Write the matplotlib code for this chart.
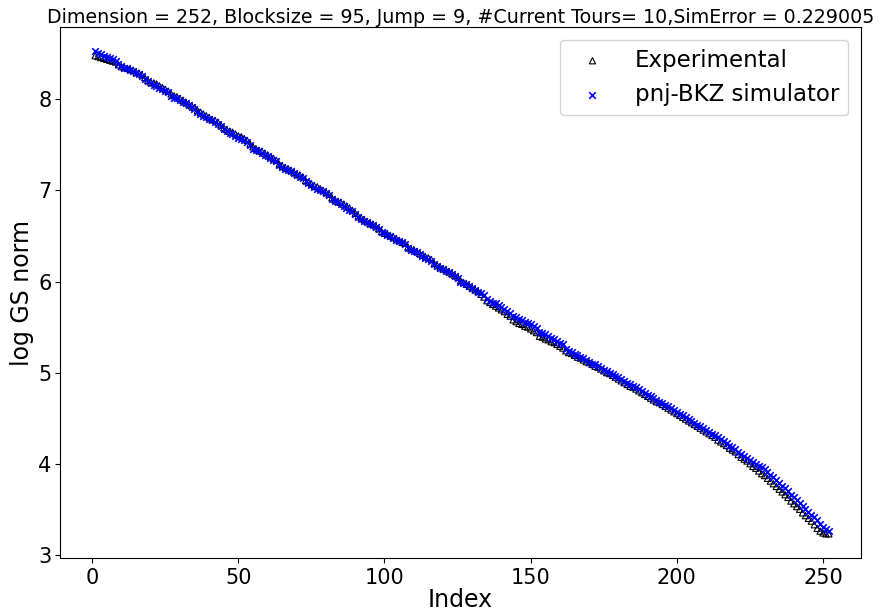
import matplotlib
matplotlib.use("Agg")
import matplotlib.pyplot as plt

index = list(range(1, 253))

experimental = [
    8.48, 8.47, 8.46, 8.45, 8.44, 8.43, 8.42, 8.41, 8.38, 8.36,
    8.35, 8.34, 8.33, 8.32, 8.30, 8.29, 8.27, 8.24, 8.21, 8.19,
    8.18, 8.17, 8.15, 8.13, 8.11, 8.09, 8.06, 8.04, 8.03, 8.01,
    7.99, 7.97, 7.95, 7.93, 7.91, 7.88, 7.86, 7.84, 7.82, 7.80,
    7.78, 7.77, 7.75, 7.72, 7.69, 7.67, 7.65, 7.64, 7.62, 7.60,
    7.59, 7.57, 7.55, 7.51, 7.48, 7.46, 7.44, 7.43, 7.41, 7.39,
    7.37, 7.35, 7.33, 7.29, 7.27, 7.25, 7.24, 7.22, 7.20, 7.18,
    7.17, 7.15, 7.11, 7.09, 7.07, 7.05, 7.04, 7.02, 7.00, 6.98,
    6.96, 6.92, 6.90, 6.88, 6.87, 6.85, 6.83, 6.81, 6.78, 6.75,
    6.72, 6.70, 6.68, 6.66, 6.64, 6.63, 6.61, 6.58, 6.55, 6.53,
    6.52, 6.50, 6.49, 6.47, 6.45, 6.43, 6.42, 6.38, 6.36, 6.35,
    6.33, 6.31, 6.29, 6.27, 6.26, 6.24, 6.20, 6.18, 6.16, 6.14,
    6.13, 6.11, 6.09, 6.07, 6.05, 6.01, 5.99, 5.97, 5.95, 5.93,
    5.91, 5.89, 5.86, 5.83, 5.79, 5.77, 5.75, 5.73, 5.71, 5.69,
    5.67, 5.64, 5.62, 5.58, 5.56, 5.54, 5.53, 5.51, 5.50, 5.48,
    5.46, 5.44, 5.40, 5.39, 5.37, 5.36, 5.34, 5.33, 5.31, 5.29,
    5.27, 5.24, 5.22, 5.21, 5.19, 5.17, 5.16, 5.14, 5.12, 5.11,
    5.09, 5.07, 5.06, 5.04, 5.02, 5.00, 4.99, 4.97, 4.95, 4.93,
    4.91, 4.89, 4.87, 4.85, 4.84, 4.82, 4.80, 4.78, 4.76, 4.74,
    4.72, 4.70, 4.68, 4.67, 4.65, 4.63, 4.61, 4.59, 4.57, 4.55,
    4.53, 4.51, 4.49, 4.47, 4.45, 4.43, 4.41, 4.39, 4.37, 4.35,
    4.33, 4.31, 4.29, 4.26, 4.24, 4.22, 4.20, 4.17, 4.15, 4.13,
    4.10, 4.07, 4.05, 4.03, 4.00, 3.97, 3.95, 3.92, 3.89, 3.87,
    3.84, 3.81, 3.78, 3.75, 3.72, 3.69, 3.66, 3.63, 3.59, 3.56,
    3.53, 3.50, 3.46, 3.43, 3.40, 3.37, 3.33, 3.29, 3.26, 3.24,
    3.23, 3.23,
]

simulator = [
    8.53, 8.51, 8.50, 8.48, 8.47, 8.45, 8.44, 8.42, 8.39, 8.37,
    8.35, 8.34, 8.32, 8.31, 8.29, 8.28, 8.26, 8.22, 8.20, 8.18,
    8.16, 8.15, 8.13, 8.11, 8.09, 8.08, 8.04, 8.02, 8.01, 7.99,
    7.97, 7.96, 7.94, 7.92, 7.90, 7.86, 7.84, 7.82, 7.81, 7.79,
    7.77, 7.75, 7.73, 7.71, 7.68, 7.65, 7.63, 7.62, 7.60, 7.58,
    7.57, 7.55, 7.53, 7.50, 7.46, 7.45, 7.43, 7.41, 7.39, 7.38,
    7.36, 7.34, 7.32, 7.28, 7.26, 7.24, 7.22, 7.21, 7.19, 7.17,
    7.15, 7.14, 7.10, 7.08, 7.06, 7.04, 7.02, 7.01, 6.99, 6.97,
    6.95, 6.91, 6.89, 6.87, 6.85, 6.83, 6.81, 6.79, 6.77, 6.74,
    6.71, 6.69, 6.67, 6.65, 6.63, 6.62, 6.60, 6.58, 6.54, 6.53,
    6.51, 6.50, 6.48, 6.46, 6.44, 6.43, 6.41, 6.37, 6.35, 6.34,
    6.32, 6.30, 6.28, 6.26, 6.25, 6.23, 6.19, 6.17, 6.15, 6.14,
    6.12, 6.10, 6.08, 6.06, 6.04, 6.00, 5.98, 5.97, 5.95, 5.93,
    5.91, 5.89, 5.87, 5.85, 5.81, 5.79, 5.77, 5.76, 5.74, 5.72,
    5.70, 5.68, 5.66, 5.62, 5.61, 5.59, 5.58, 5.56, 5.55, 5.53,
    5.51, 5.49, 5.45, 5.43, 5.42, 5.40, 5.38, 5.37, 5.35, 5.33,
    5.31, 5.26, 5.24, 5.23, 5.21, 5.19, 5.17, 5.16, 5.14, 5.12,
    5.10, 5.09, 5.07, 5.05, 5.03, 5.02, 5.00, 4.98, 4.96, 4.95,
    4.93, 4.91, 4.89, 4.87, 4.85, 4.84, 4.82, 4.80, 4.78, 4.76,
    4.74, 4.72, 4.70, 4.68, 4.67, 4.65, 4.63, 4.61, 4.59, 4.57,
    4.55, 4.53, 4.51, 4.49, 4.47, 4.45, 4.43, 4.41, 4.39, 4.37,
    4.35, 4.33, 4.31, 4.29, 4.27, 4.25, 4.23, 4.20, 4.18, 4.16,
    4.13, 4.11, 4.08, 4.06, 4.04, 4.02, 4.00, 3.98, 3.96, 3.94,
    3.91, 3.88, 3.85, 3.82, 3.79, 3.76, 3.73, 3.70, 3.66, 3.63,
    3.60, 3.57, 3.54, 3.50, 3.47, 3.44, 3.41, 3.38, 3.34, 3.31,
    3.28, 3.26,
]

title = "Dimension = 252, Blocksize = 95, Jump = 9, #Current Tours= 10,SimError = 0.229005"

fig = plt.figure(figsize=(8.81, 6.14), dpi=100)
ax = fig.add_axes([60 / 881, 1 - 558 / 614, (861 - 60) / 881, (558 - 27) / 614])

ax.scatter(index, experimental, marker="^", facecolors="none", edgecolors="black",
           s=20, linewidths=0.8, label="Experimental")
ax.scatter(index, simulator, marker="x", color="blue", s=22, linewidths=1.2,
           label="pnj-BKZ simulator")

ax.set_xlim(-11.0, 263.0)
ax.set_title(title, fontsize=13.7, pad=3)
ax.set_xlabel("Index", fontsize=17, labelpad=0)
ax.set_ylabel("log GS norm", fontsize=17, labelpad=3)
ax.tick_params(axis="both", labelsize=15)
ax.tick_params(axis="y", pad=2.5)
ax.legend(fontsize=16.5, loc="upper right", markerscale=1.0, handletextpad=0.85,
          borderaxespad=0.55)

fig.savefig("out.png", dpi=100)
